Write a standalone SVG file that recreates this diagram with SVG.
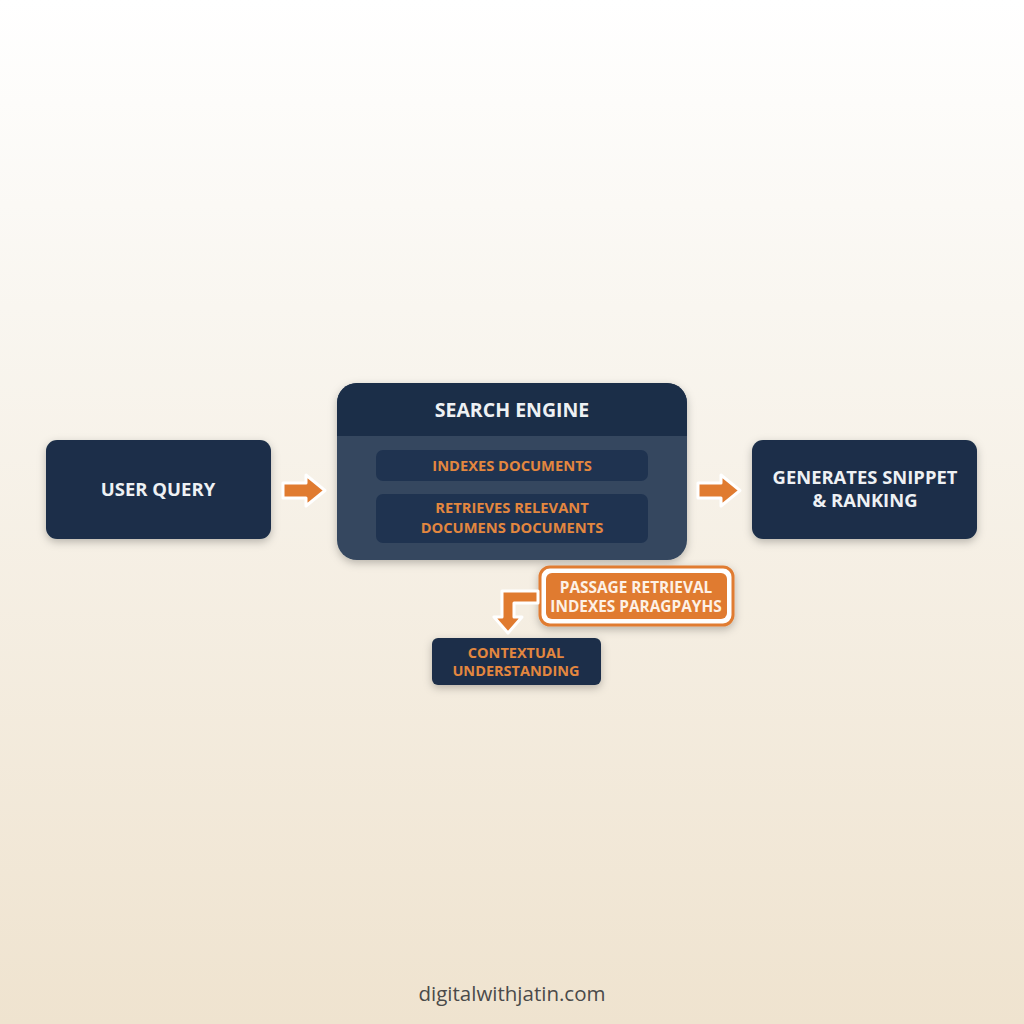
<svg xmlns="http://www.w3.org/2000/svg" width="1024" height="1024" viewBox="0 0 1024 1024">
<defs>
<linearGradient id="bg" x1="0" y1="0" x2="0" y2="1">
<stop offset="0" stop-color="#ffffff"/>
<stop offset="0.3" stop-color="#f9f6f0"/>
<stop offset="1" stop-color="#efe3cf"/>
</linearGradient>
<filter id="sh" x="-20%" y="-20%" width="140%" height="150%">
<feDropShadow dx="0" dy="3" stdDeviation="4" flood-color="#000" flood-opacity="0.25"/>
</filter>
<style>
.node{fill:#1c2f48;}
.wt{font-family:"Open Sans","Noto Sans",sans-serif;font-weight:700;fill:#eef1f4;text-anchor:middle;}
.ot{font-family:"Open Sans","Noto Sans",sans-serif;font-weight:700;fill:#e3873f;text-anchor:middle;}
.arrow{fill:#e07b30;stroke:#ffffff;stroke-width:3;stroke-linejoin:round;}
</style>
</defs>
<rect width="1024" height="1024" fill="url(#bg)"/>

<g id="user-query">
<rect class="node" x="46" y="440" width="225" height="99" rx="11" filter="url(#sh)"/>
<text class="wt" x="158" y="496" font-size="18.5">USER QUERY</text>
</g>

<g id="search-engine">
<rect x="337" y="383" width="350" height="177" rx="20" fill="#34475f" filter="url(#sh)"/>
<path d="M337 436 V403 A20 20 0 0 1 357 383 H667 A20 20 0 0 1 687 403 V436 Z" fill="#1b2e48"/>
<text class="wt" x="512" y="417" font-size="19.5">SEARCH ENGINE</text>
<rect x="376" y="450" width="272" height="31" rx="7" fill="#1f3350"/>
<text class="ot" x="512" y="471" font-size="14.7">INDEXES DOCUMENTS</text>
<rect x="376" y="494" width="272" height="49" rx="7" fill="#1f3350"/>
<text class="ot" x="512" y="513" font-size="14.7">RETRIEVES RELEVANT</text>
<text class="ot" x="512" y="533" font-size="14.7">DOCUMENS DOCUMENTS</text>
</g>

<g id="generates-snippet">
<rect class="node" x="752" y="440" width="225" height="99" rx="11" filter="url(#sh)"/>
<text class="wt" x="865" y="484" font-size="18.4">GENERATES SNIPPET</text>
<text class="wt" x="865" y="507" font-size="18.4">&amp; RANKING</text>
</g>

<g id="passage-retrieval">
<rect x="540" y="567" width="193" height="58" rx="10" fill="#ffffff" stroke="#e07b30" stroke-width="3" filter="url(#sh)"/>
<rect x="546" y="573" width="181" height="46" rx="6" fill="#e07b30"/>
<text x="636" y="593" font-size="15.4" font-family="Open Sans, Noto Sans, sans-serif" font-weight="700" fill="#fdf1e6" text-anchor="middle">PASSAGE RETRIEVAL</text>
<text x="636" y="612" font-size="15.4" font-family="Open Sans, Noto Sans, sans-serif" font-weight="700" fill="#fdf1e6" text-anchor="middle">INDEXES PARAGPAYHS</text>
</g>

<g id="contextual-understanding">
<rect class="node" x="432" y="638" width="169" height="47" rx="6" filter="url(#sh)"/>
<text class="ot" x="516" y="658" font-size="14.5">CONTEXTUAL</text>
<text class="ot" x="516" y="676" font-size="14.5">UNDERSTANDING</text>
</g>

<g id="connectors">
<path class="arrow" d="M283 483 H306 V475 L325 490.5 L306 506 V498 H283 Z"/>
<path class="arrow" d="M698 483 H721 V475 L740 490.5 L721 506 V498 H698 Z"/>
<path class="arrow" d="M538 591 V603 H514 V617 H522 L508 633 L494 617 H502 V591 Z"/>
</g>

<text x="512" y="1001" font-size="20.5" font-family="Open Sans, Noto Sans, sans-serif" fill="#4a4a4a" text-anchor="middle">digitalwithjatin.com</text>
</svg>
